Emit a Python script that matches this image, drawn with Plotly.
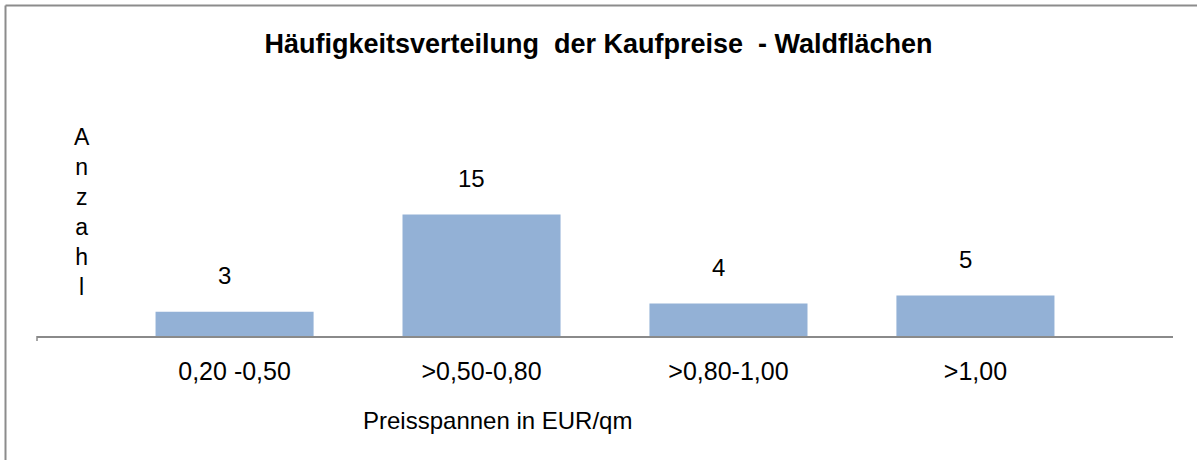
import plotly.graph_objects as go

categories = ["0,20 -0,50", ">0,50-0,80", ">0,80-1,00", ">1,00"]
values = [3, 15, 4, 5]
title_text = "Häufigkeitsverteilung  der Kaufpreise  - Waldflächen"
x_title = "Preisspannen in EUR/qm"
y_title = "Anzahl"

W, H = 1197, 460
ML, MR, MT, MB = 37, 24, 174, 124
FONT = "Liberation Sans, Arial, sans-serif"
BAR = "#93B1D6"
AXIS = "#8A8A8A"

xpos = list(range(len(categories)))

fig = go.Figure()
fig.add_trace(go.Bar(
    x=xpos, y=values, width=0.64,
    marker=dict(color=BAR, line=dict(width=0)),
    hoverinfo="skip",
))

annotations = []
for xi, v in zip(xpos, values):
    annotations.append(dict(
        x=xi, y=v, xref="x", yref="y", text=str(v), showarrow=False,
        yanchor="middle", xanchor="center", yshift=36, xshift=-10,
        font=dict(family=FONT, size=24, color="#000000"),
    ))

pw = W - ML - MR
ph = H - MT - MB

# y-axis title as stacked letters
annotations.append(dict(
    x=(82 - ML) / pw, y=(H - MB - 212) / ph, xref="paper", yref="paper",
    text="<br>".join(list(y_title)), showarrow=False,
    xanchor="center", yanchor="middle", align="center",
    font=dict(family=FONT, size=23, color="#000000"),
))
# x-axis title
annotations.append(dict(
    x=(497 - ML) / pw, y=(H - MB - 420) / ph, xref="paper", yref="paper",
    text=x_title, showarrow=False, xanchor="center", yanchor="middle",
    font=dict(family=FONT, size=24, color="#000000"),
))

shapes = [
    # outer frame (left and top edges)
    dict(type="line", xref="paper", yref="paper",
         x0=(5.5 - ML) / pw, x1=(5.5 - ML) / pw,
         y0=(H - MB - 5.5) / ph, y1=(H - MB - 470) / ph,
         line=dict(color="#8C8C8C", width=2)),
    dict(type="line", xref="paper", yref="paper",
         x0=(5.5 - ML) / pw, x1=(W + 10 - ML) / pw,
         y0=(H - MB - 5.5) / ph, y1=(H - MB - 5.5) / ph,
         line=dict(color="#8C8C8C", width=2)),
    # small tick at left end of category axis
    dict(type="line", xref="paper", yref="paper",
         x0=0, x1=0, y0=0, y1=-5 / ph,
         line=dict(color=AXIS, width=1.5)),
]

fig.update_layout(
    width=W, height=H,
    margin=dict(l=ML, r=MR, t=MT, b=MB, pad=0),
    paper_bgcolor="#FFFFFF", plot_bgcolor="#FFFFFF",
    showlegend=False,
    title=dict(text="<b>" + title_text + "</b>", x=0.5, xanchor="center",
               xref="container", yref="container", y=1 - 44 / H, yanchor="middle",
               font=dict(family=FONT, size=27, color="#000000")),
    xaxis=dict(range=[-0.8, 3.8], tickvals=xpos, ticktext=categories,
               showgrid=False, zeroline=False, showline=True,
               linecolor=AXIS, linewidth=1.5, ticks="",
               ticklabelstandoff=12,
               tickfont=dict(family=FONT, size=25, color="#000000"),
               fixedrange=True),
    yaxis=dict(range=[0, 20], showgrid=False, zeroline=False,
               showline=False, showticklabels=False, ticks="",
               fixedrange=True),
    annotations=annotations,
    shapes=shapes,
)

fig.write_html("out.html", config={"displayModeBar": False},
               post_script="document.body.style.margin='0';")
